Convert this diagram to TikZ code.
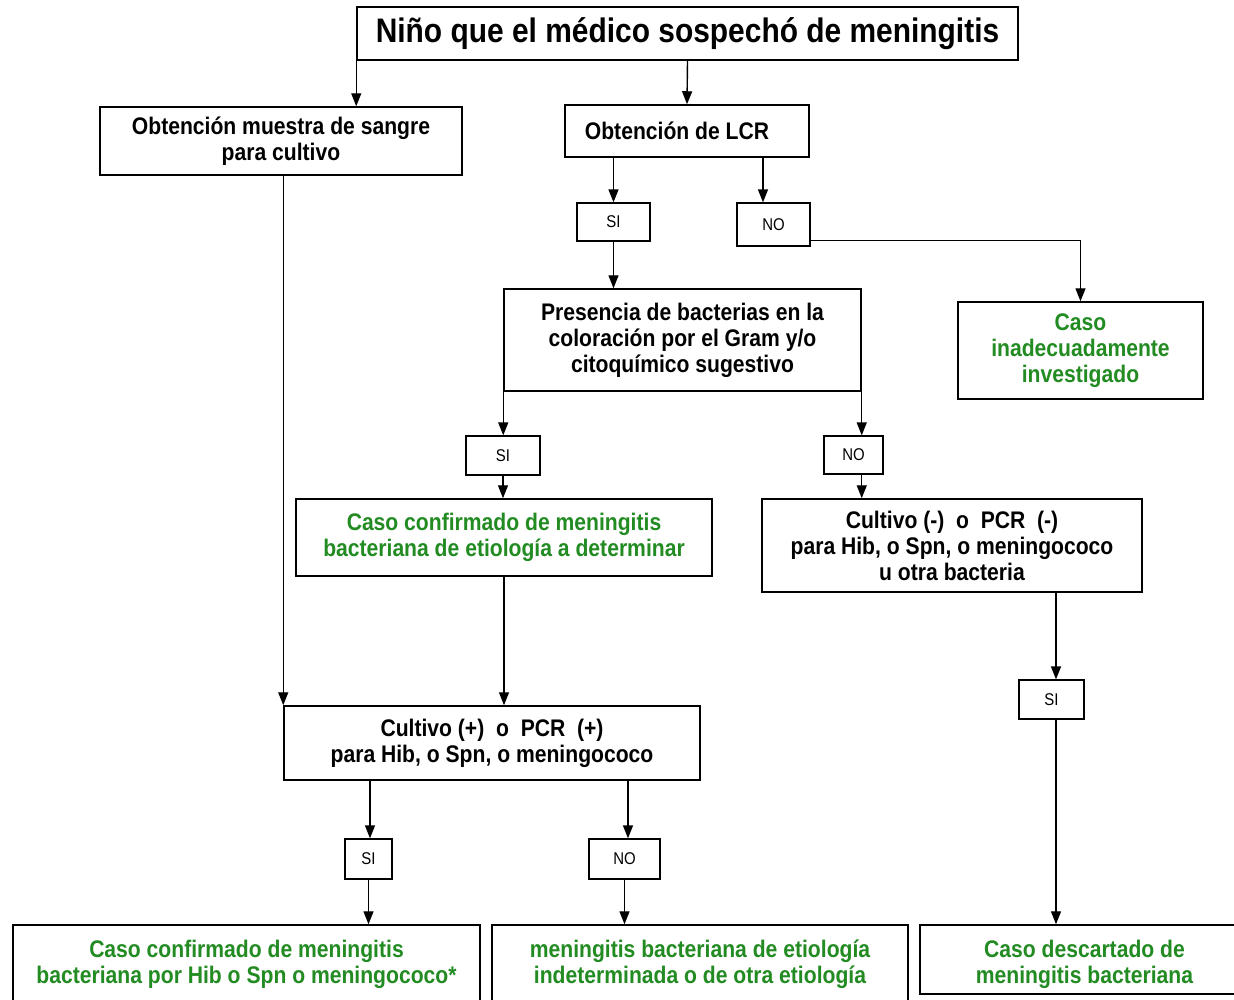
\documentclass[tikz,border=0pt]{standalone}
\usepackage{fontspec}
\setmainfont{Liberation Sans}[FakeStretch=0.88]
\usetikzlibrary{arrows.meta,calc}
\definecolor{okgreen}{RGB}{34,139,34}

\tikzset{
  box/.style={draw, line width=1.5pt, inner sep=0pt, align=center, font=\bfseries\fontsize{24}{26}\selectfont},
  greenbox/.style={box, text=okgreen},
  yesno/.style={draw, line width=1.3pt, inner sep=0pt, font=\fontsize{17}{20}\selectfont},
  arr/.style={line width=1.4pt, -{Triangle[length=13pt,width=10pt]}}
}

\begin{document}
\begin{tikzpicture}[x=1pt, y=-1pt]
        \fill[white] (0,0) rectangle (1234,999);
        \useasboundingbox (0,0) rectangle (1234,999);

        \node[box, minimum width=661, minimum height=53, font=\bfseries\fontsize{34}{38}\selectfont] (title) at (687.5,33.5) {Niño que el médico sospechó de meningitis};

        \node[box, minimum width=362, minimum height=68] (sangre) at (281,141) {Obtención muestra de sangre\\para cultivo};
        \node[box, minimum width=244, minimum height=52] (lcr) at (687,131) {Obtención de LCR\hspace{20pt}};
        \node[box, minimum width=357, minimum height=102] (pres) at (682.5,340) {Presencia de bacterias en la\\coloración por el Gram y/o\\citoquímico sugestivo};
        \node[greenbox, minimum width=245, minimum height=97] (inad) at (1080.5,350.5) {Caso\\inadecuadamente\\investigado};
        \node[greenbox, minimum width=416, minimum height=77] (conf) at (504,537.5) {Caso confirmado de meningitis\\bacteriana de etiología a determinar};
        \node[box, minimum width=380, minimum height=93] (neg) at (952,545.5) {Cultivo (-)\ \ o\ \ PCR\ \ (-)\\para Hib, o Spn, o meningococo\\u otra bacteria};
        \node[box, minimum width=416, minimum height=74] (pos) at (492,743) {Cultivo (+)\ \ o\ \ PCR\ \ (+)\\para Hib, o Spn, o meningococo};
        \node[greenbox, minimum width=467, minimum height=78] (finA) at (246.5,964) {Caso confirmado de meningitis\\bacteriana por Hib o Spn o meningococo*};
        \node[greenbox, minimum width=416, minimum height=78] (finB) at (700,964) {meningitis bacteriana de etiología\\indeterminada o de otra etiología};
        \node[greenbox, minimum width=317, minimum height=69] (finC) at (1078.5,959.5) {\rule{0pt}{28pt}\hspace{12pt}Caso descartado de\\\hspace{12pt}meningitis bacteriana};

        \foreach \n/\t/\x/\y/\w/\h in {siA/SI/613.5/222/73/38, noA/NO/773.5/224.5/73/43,
                                     siB/SI/503/455.5/74/39, noB/NO/853.5/455/59/38,
                                     siC/SI/368.5/859/47/40, noC/NO/624.5/859/71/40,
                                     siD/SI/1051.5/699.5/65/39}
            \node[yesno, minimum width=\w, minimum height=\h] (\n) at (\x,\y) {\t};

        \draw[arr] (title.south west) -- (title.south west |- sangre.north);
        \draw[arr] (title.south) -- (lcr.north);
        \draw[arr] (siA.north |- lcr.south) -- (siA.north);
        \draw[arr] (763,0 |- lcr.south) -- (763,0 |- noA.north);
        \draw[arr] (siA.south) -- (siA.south |- pres.north);
        \draw[arr] ([yshift=-16pt]noA.east) -| (inad.north);
        \draw[arr] (pres.south west) -- (pres.south west |- siB.north);
        \draw[arr] (pres.south east) -- (pres.south east |- noB.north);
        \draw[arr] (siB.south) -- (siB.south |- conf.north);
        \draw[arr] (pres.south east |- noB.south) -- (pres.south east |- neg.north);
        \draw[arr] (conf.south) -- (conf.south |- pos.north);
        \draw[arr] (pos.north west |- sangre.south) -- (pos.north west);
        \draw[arr] (370,0 |- pos.south) -- (370,0 |- siC.north);
        \draw[arr] (628,0 |- pos.south) -- (628,0 |- noC.north);
        \draw[arr] (siC.south) -- (siC.south |- finA.north);
        \draw[arr] (noC.south) -- (noC.south |- finB.north);
        \draw[arr] (1056,0 |- neg.south) -- (1056,0 |- siD.north);
        \draw[arr] (1056,0 |- siD.south) -- (1056,0 |- finC.north);
\end{tikzpicture}
\end{document}
